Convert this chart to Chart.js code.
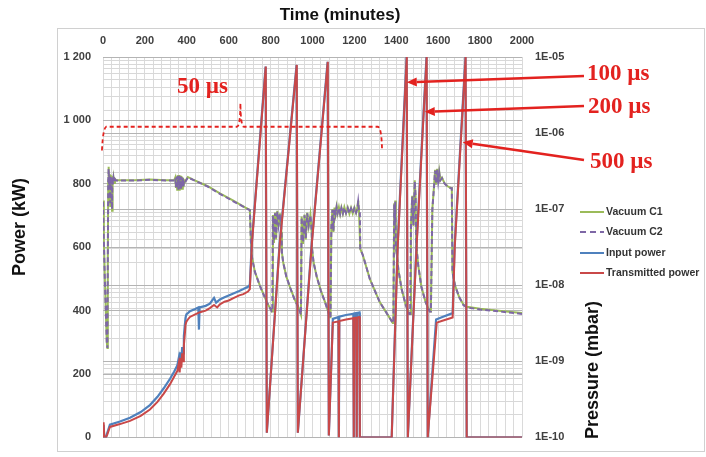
<!DOCTYPE html>
<html>
<head>
<meta charset="utf-8">
<title>Power and vacuum vs time</title>
<script src="https://cdn.jsdelivr.net/npm/chart.js@4.4.1/dist/chart.umd.min.js"></script>
<style>
  html, body { margin: 0; padding: 0; background: #fff; }
  canvas { display: block; }
</style>
</head>
<body>
<canvas id="powerChart" width="706" height="457"></canvas>
<script>
// Values (time in minutes)

// Transmitted power (kW)
const transTime = [0, 3, 6, 14, 20, 33, 81, 129, 180, 224, 260, 290, 320, 340, 355, 362, 366, 370, 374, 378, 382, 386, 390, 394, 398, 405, 415, 440, 463, 490, 510, 530, 545, 558, 580, 600, 625, 650, 670, 692, 701,
  711, 777, 782, 844, 925, 930, 997, 1073, 1078,
  1097, 1124, 1126, 1128, 1160, 1195, 1197, 1199, 1209, 1211, 1213, 1224, 1226, 1378,
  1407, 1450, 1455, 1497, 1545, 1550, 1593, 1620, 1669, 1679, 1731, 1736, 2000];
const transKw = [0, 48, 0, 0, 8, 33, 42, 52, 68, 88, 112, 138, 168, 192, 210, 235, 205, 250, 220, 265, 240, 290, 320, 355, 365, 372, 380, 388, 395, 400, 408, 418, 410, 420, 428, 432, 440, 448, 452, 460, 468,
  612, 1170, 15, 612, 1175, 15, 612, 1185, 6,
  362, 366, 0, 367, 372, 376, 0, 377, 378, 0, 378, 380, 0, 0,
  603, 1200, 0, 603, 1200, 0, 362, 368, 378, 600, 1200, 0, 0];

// Input power (kW)
const inputTime = [0, 3, 6, 14, 20, 33, 81, 129, 180, 224, 260, 290, 320, 340, 355, 362, 366, 370, 374, 378, 382, 386, 390, 394, 398, 405, 415, 440, 455, 458, 461, 490, 510, 530, 540, 558, 580, 600, 625, 650, 670, 692, 701,
  710, 776, 782, 843, 924, 930, 996, 1072, 1078,
  1097, 1124, 1126, 1128, 1160, 1195, 1197, 1199, 1209, 1211, 1213, 1224, 1226, 1378,
  1406, 1449, 1455, 1496, 1544, 1550, 1590, 1620, 1669, 1678, 1730, 1736, 2000];
const inputKw = [0, 40, 0, 0, 14, 40, 50, 62, 80, 102, 128, 155, 185, 208, 228, 252, 228, 268, 245, 285, 265, 320, 350, 378, 388, 392, 398, 405, 410, 340, 410, 415, 422, 440, 425, 435, 442, 448, 455, 462, 468, 475, 482,
  612, 1170, 15, 612, 1175, 15, 612, 1185, 6,
  374, 380, 0, 381, 386, 390, 0, 391, 392, 0, 392, 394, 0, 0,
  603, 1200, 0, 603, 1200, 0, 372, 380, 392, 600, 1200, 0, 0];

// Vacuum C1 / C2 (in 1E-09 mbar)
const PRESSURE_UNIT = 1e-9;
const vacTime = [0, 4, 9, 14, 18, 21, 23, 25, 27, 29, 31, 33, 35, 37, 39, 41, 43, 45, 47, 50, 53, 57, 62, 150, 224, 300, 340,
  345, 348, 351, 354, 357, 360, 363, 366, 369, 372, 375, 378, 381, 384, 387, 392, 400, 405, 430, 500, 560, 620, 680, 701,
  706, 711, 725, 749, 782, 806, 808, 811, 816, 821, 826, 832, 838, 845, 852,
  854, 860, 875, 895, 915, 935, 945, 948, 955, 962, 968, 975, 982, 990, 996,
  998, 1005, 1020, 1040, 1060, 1075, 1083, 1086, 1090, 1095, 1100, 1105, 1110, 1115, 1120, 1126, 1132, 1138, 1145, 1152, 1160, 1168, 1176, 1184, 1192, 1200, 1208, 1214, 1218, 1222, 1226,
  1228, 1240, 1274, 1321, 1383, 1386, 1390, 1393, 1395,
  1398, 1410, 1425, 1445, 1462, 1466, 1470, 1476, 1482, 1488, 1492, 1495,
  1497, 1505, 1520, 1540, 1560, 1565, 1572, 1580, 1585, 1590, 1595, 1600, 1605, 1610, 1618, 1630, 1645, 1660, 1665,
  1668, 1680, 1700, 1720, 1736, 1800, 1900, 2000];
const vacC1 = [130, 40, 12, 4, 1.8, 1.5, 20, 240, 360, 200, 290, 190, 110, 280, 200, 270, 95, 260, 210, 260, 220, 250, 240, 240, 245, 240, 240,
  260, 190, 270, 180, 280, 175, 280, 175, 275, 180, 270, 185, 260, 195, 240, 230, 250, 265, 245, 200, 160, 130, 105, 98,
  38, 24, 15, 9.9, 6, 4.5, 4.5, 84, 36, 90, 40, 95, 60, 88, 50,
  27, 20, 13, 9, 6.5, 5, 4.1, 80, 35, 85, 40, 90, 60, 85, 50,
  30, 20, 13, 8.5, 6, 4.5, 3.8, 3.8, 60, 100, 50, 105, 85, 108, 88, 106, 86, 105, 87, 106, 88, 105, 87, 104, 88, 105, 89, 104, 130, 95, 95,
  30, 25, 12, 6, 3.2, 3.2, 120, 60, 130,
  33, 16, 9, 5.5, 4.2, 4.2, 60, 150, 60, 240, 150, 35,
  30, 18, 9.5, 6, 4.5, 4.5, 100, 200, 330, 210, 340, 230, 310, 240, 260, 220, 200, 190, 190,
  15, 10, 7, 5.6, 5.2, 4.9, 4.6, 4.3];
const vacC2 = [125, 38, 11, 4, 1.8, 1.5, 22, 230, 340, 210, 280, 195, 120, 270, 205, 265, 100, 255, 215, 255, 225, 248, 238, 238, 243, 238, 238,
  255, 195, 265, 185, 275, 180, 275, 180, 270, 185, 265, 190, 255, 200, 238, 228, 248, 262, 243, 198, 158, 128, 104, 97,
  37, 23, 15, 9.8, 6, 4.5, 4.5, 82, 38, 88, 42, 93, 62, 86, 52,
  27, 20, 13, 9, 6.4, 5, 4.1, 78, 37, 83, 42, 88, 62, 83, 52,
  30, 20, 13, 8.4, 6, 4.5, 3.8, 3.8, 58, 98, 52, 103, 86, 106, 89, 104, 87, 103, 88, 104, 89, 103, 88, 102, 89, 103, 90, 102, 125, 94, 94,
  30, 25, 12, 6, 3.2, 3.2, 115, 62, 125,
  33, 16, 9, 5.5, 4.2, 4.2, 58, 145, 62, 230, 150, 35,
  30, 18, 9.4, 6, 4.5, 4.5, 98, 195, 320, 215, 330, 232, 300, 238, 255, 218, 198, 188, 188,
  15, 10, 7, 5.5, 5.1, 4.8, 4.5, 4.2];

// Axes
const timeTicks = [0, 200, 400, 600, 800, 1000, 1200, 1400, 1600, 1800, 2000];
const powerTicks = [0, 200, 400, 600, 800, 1000, 1200];
const pressureDecades = [-10, -9, -8, -7, -6, -5];

const seriesNames = ['Vacuum C1', 'Vacuum C2', 'Input power', 'Transmitted power'];
const seriesColors = ['#9BBB59', '#7E67A6', '#4F81BD', '#C94848'];
const pulseLabels = ['50 µs', '100 µs', '200 µs', '500 µs'];

function toPoints(xs, ys, unit) {
    return xs.map((x, i) => ({ x: x, y: ys[i] * (unit || 1) }));
}

function isDecade(v) {
    const e = Math.round(Math.log10(v));
    return Math.abs(v / Math.pow(10, e) - 1) < 1e-6;
}

const tickFont = { family: '"Liberation Sans", Arial, sans-serif', size: 11, weight: 'bold' };
const RED = '#e3221f';

// Titles, legend and the pulse-length annotations
const decor = {
    id: 'decor',
    beforeDraw(chart) {
        const c = chart.ctx;
        c.save();
        c.fillStyle = '#fff';
        c.fillRect(0, 0, chart.width, chart.height);
        c.strokeStyle = '#d0d0d0';
        c.lineWidth = 1;
        c.strokeRect(57.5, 28.5, 647, 423);
        c.restore();
    },
    afterDraw(chart) {
        const c = chart.ctx;
        const xs = chart.scales.x, ys = chart.scales.y;
        const p = (m, kw) => [xs.getPixelForValue(m), ys.getPixelForValue(kw)];
        c.save();

        // axis titles
        c.fillStyle = '#111';
        c.textAlign = 'center';
        c.textBaseline = 'middle';
        c.font = 'bold 17px "Liberation Sans", Arial, sans-serif';
        c.fillText('Time (minutes)', 340, 15);
        c.font = 'bold 18px "Liberation Sans", Arial, sans-serif';
        c.save();
        c.translate(20, 227);
        c.rotate(-Math.PI / 2);
        c.fillText('Power (kW)', 0, 0);
        c.restore();
        c.save();
        c.translate(593, 370);
        c.rotate(-Math.PI / 2);
        c.fillText('Pressure (mbar)', 0, 0);
        c.restore();

        // legend
        const rows = [212, 232, 253, 273];
        c.font = 'bold 10.5px "Liberation Sans", Arial, sans-serif';
        c.textAlign = 'left';
        seriesNames.forEach((name, i) => {
            c.strokeStyle = seriesColors[i];
            c.lineWidth = 2;
            c.setLineDash(i === 1 ? [6, 4] : []);
            c.beginPath();
            c.moveTo(580, rows[i]);
            c.lineTo(604, rows[i]);
            c.stroke();
            c.setLineDash([]);
            c.fillStyle = '#333';
            c.fillText(name, 606, rows[i] + 0.5);
        });

        // 50 us bracket
        c.strokeStyle = RED;
        c.lineWidth = 1.8;
        c.setLineDash([4, 3]);
        c.beginPath();
        let a = p(-5, 905);
        c.moveTo(a[0], a[1]);
        let q = p(0, 975), b = p(15, 980);
        c.quadraticCurveTo(q[0], q[1], b[0], b[1]);
        b = p(640, 980); c.lineTo(b[0], b[1]);
        q = p(655, 982); b = p(656, 1055);
        c.quadraticCurveTo(q[0], q[1], b[0], b[1]);
        q = p(657, 982); b = p(672, 980);
        c.quadraticCurveTo(q[0], q[1], b[0], b[1]);
        b = p(1312, 980); c.lineTo(b[0], b[1]);
        q = p(1330, 978); b = p(1332, 905);
        c.quadraticCurveTo(q[0], q[1], b[0], b[1]);
        c.stroke();
        c.setLineDash([]);

        // labels
        c.fillStyle = RED;
        c.font = 'bold 23px "Liberation Serif", "Times New Roman", serif';
        c.textBaseline = 'alphabetic';
        c.fillText(pulseLabels[0], 177, 93);
        c.fillText(pulseLabels[1], 587, 80);
        c.fillText(pulseLabels[2], 588, 113);
        c.fillText(pulseLabels[3], 590, 168);

        // arrows pointing at the ramps
        const arrow = (x0, y0, tip) => {
            const [x1, y1] = p(tip[0], tip[1]);
            const ang = Math.atan2(y1 - y0, x1 - x0);
            const L = 10, W = 4.5;
            const bx = x1 - L * Math.cos(ang), by = y1 - L * Math.sin(ang);
            c.strokeStyle = RED;
            c.lineWidth = 2.6;
            c.beginPath();
            c.moveTo(x0, y0);
            c.lineTo(bx, by);
            c.stroke();
            c.beginPath();
            c.moveTo(x1, y1);
            c.lineTo(bx + W * Math.sin(ang), by - W * Math.cos(ang));
            c.lineTo(bx - W * Math.sin(ang), by + W * Math.cos(ang));
            c.closePath();
            c.fill();
        };
        arrow(584, 76, [1450, 1120]);
        arrow(584, 106, [1536, 1027]);
        arrow(584, 160, [1717, 931]);

        c.restore();
    }
};

const ctx = document.getElementById('powerChart').getContext('2d');
const powerChart = new Chart(ctx, {
    type: 'line',
    data: {
        datasets: [
            {
                label: seriesNames[0],
                data: toPoints(vacTime, vacC1, PRESSURE_UNIT),
                yAxisID: 'yP',
                borderColor: seriesColors[0],
                borderWidth: 2,
                order: 3
            },
            {
                label: seriesNames[1],
                data: toPoints(vacTime, vacC2, PRESSURE_UNIT),
                yAxisID: 'yP',
                borderColor: seriesColors[1],
                borderDash: [5, 3],
                borderWidth: 2,
                order: 2
            },
            {
                label: seriesNames[2],
                data: toPoints(inputTime, inputKw),
                yAxisID: 'y',
                borderColor: seriesColors[2],
                borderWidth: 2.2,
                order: 1
            },
            {
                label: seriesNames[3],
                data: toPoints(transTime, transKw),
                yAxisID: 'y',
                borderColor: seriesColors[3],
                borderWidth: 2,
                order: 0
            }
        ]
    },
    options: {
        responsive: false,
        animation: false,
        devicePixelRatio: 1,
        layout: { padding: { top: 0, left: 0, right: 0, bottom: 12 } },
        elements: {
            point: { radius: 0 },
            line: { tension: 0, fill: false }
        },
        plugins: {
            legend: { display: false },
            tooltip: { enabled: false },
            title: { display: false }
        },
        scales: {
            x: {
                type: 'linear',
                position: 'top',
                min: 0,
                max: 2000,
                afterFit: s => { s.height = 57; },
                border: { display: false },
                grid: { color: '#dadada', lineWidth: 1, drawTicks: false },
                ticks: {
                    stepSize: 40,
                    autoSkip: false,
                    maxRotation: 0,
                    padding: 9,
                    font: tickFont,
                    color: '#404040',
                    callback: v => timeTicks.includes(v) ? String(v) : ''
                }
            },
            y: {
                position: 'left',
                min: 0,
                max: 1200,
                afterFit: s => { s.width = 103; },
                border: { display: false },
                grid: { color: '#b4b4b4', lineWidth: 1, drawTicks: false },
                afterBuildTicks: s => { s.ticks = powerTicks.map(v => ({ value: v })); },
                ticks: {
                    padding: 12,
                    font: tickFont,
                    color: '#404040',
                    callback: v => v >= 1000 ? String(v).replace(/(\d)(\d{3})$/, '$1 $2') : String(v)
                }
            },
            yP: {
                type: 'logarithmic',
                position: 'right',
                min: 1e-10,
                max: 1e-5,
                afterFit: s => { s.width = 184; },
                border: { display: false },
                afterBuildTicks: s => {
                    const t = [];
                    pressureDecades.forEach((e, i) => {
                        if (i === pressureDecades.length - 1) {
                            t.push({ value: Math.pow(10, e) });
                        } else {
                            for (let m = 1; m <= 9; m++) t.push({ value: m * Math.pow(10, e) });
                        }
                    });
                    s.ticks = t;
                },
                grid: {
                    drawTicks: false,
                    lineWidth: 1,
                    color: c => isDecade(c.tick.value) ? '#b4b4b4' : '#d8d8d8'
                },
                ticks: {
                    autoSkip: false,
                    padding: 13,
                    font: tickFont,
                    color: '#404040',
                    callback: v => {
                        if (!isDecade(v)) return '';
                        const e = Math.round(Math.log10(v));
                        return '1E-' + String(-e).padStart(2, '0');
                    }
                }
            }
        }
    },
    plugins: [decor]
});
</script>
</body>
</html>
